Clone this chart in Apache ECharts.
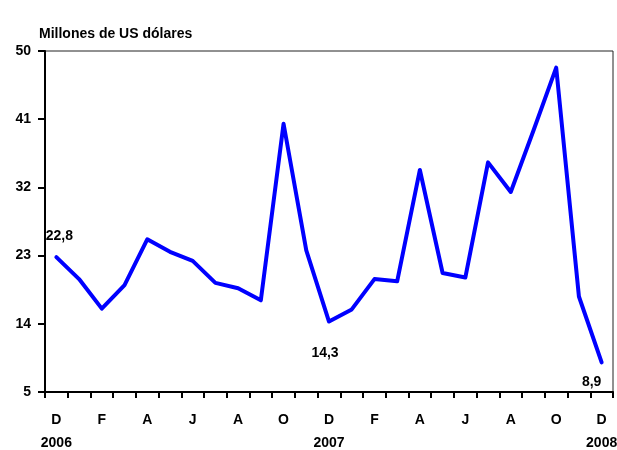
<!DOCTYPE html>
<html><head><meta charset="utf-8">
<script src="https://cdn.jsdelivr.net/npm/echarts@6/dist/echarts.min.js"></script>
<style>html,body{margin:0;padding:0;background:#fff}#c{width:617px;height:450px}</style>
</head><body><div id="c"></div>
<script>
const months = ['D','E','F','M','A','M','J','J','A','S','O','N','D','E','F','M','A','M','J','J','A','S','O','N','D'];
const years = {0:'2006',12:'2007',24:'2008'};
const values = [22.8,19.9,16.0,19.1,25.15,23.5,22.3,19.4,18.7,17.1,40.4,23.7,14.3,15.9,19.9,19.6,34.3,20.7,20.1,35.3,31.4,39.5,47.8,17.6,8.9];
const yTicks = [5,14,23,32,41,50];
const labelled = {0:'22,8',12:'14,3',24:'8,9'};

const FONT = 'Liberation Sans';
const cats = months.map((m,i)=> years[i] ? m + '\n' + years[i] : m);
const labelStyles = {
  0: {position:'top', offset:[3,-9]},
  12: {position:'bottom', offset:[-4,20]},
  24: {position:'bottom', offset:[-10,8]}
};
const data = values.map((v,i)=> labelled[i] ? {
  value: v,
  label: Object.assign({show:true, formatter: labelled[i], color:'#000', fontFamily:FONT, fontWeight:'bold', fontSize:14}, labelStyles[i])
} : v);

const chart = echarts.init(document.getElementById('c'));
chart.setOption({
  animation:false,
  title:{text:'Millones de US dólares', left:34, top:22, textStyle:{fontFamily:FONT, fontWeight:'bold', fontSize:14, color:'#000'}},
  grid:{left:45, right:4, top:51, bottom:58, show:true, borderColor:'#222', borderWidth:1, outerBoundsMode:'none', containLabel:false},
  xAxis:{type:'category', data:cats, boundaryGap:true,
    axisLine:{lineStyle:{color:'#000', width:2}},
    axisTick:{show:true, interval:0, length:6, lineStyle:{color:'#000', width:2}},
    axisLabel:{interval:1, color:'#000', fontFamily:FONT, fontWeight:'bold', fontSize:14, margin:17, lineHeight:23, align:'center'}
  },
  yAxis:{type:'value', min:yTicks[0], max:yTicks[yTicks.length-1], interval:yTicks[1]-yTicks[0],
    axisLine:{show:true, lineStyle:{color:'#000', width:2}},
    axisTick:{show:true, length:7, lineStyle:{color:'#000', width:2}},
    splitLine:{show:false},
    axisLabel:{color:'#000', fontFamily:FONT, fontWeight:'bold', fontSize:14, margin:14}
  },
  series:[{type:'line', data:data, symbol:'circle', symbolSize:0, showSymbol:true, lineStyle:{color:'#0000ff', width:4, join:'round', cap:'round'}, itemStyle:{color:'#0000ff'}}]
});
</script></body></html>
